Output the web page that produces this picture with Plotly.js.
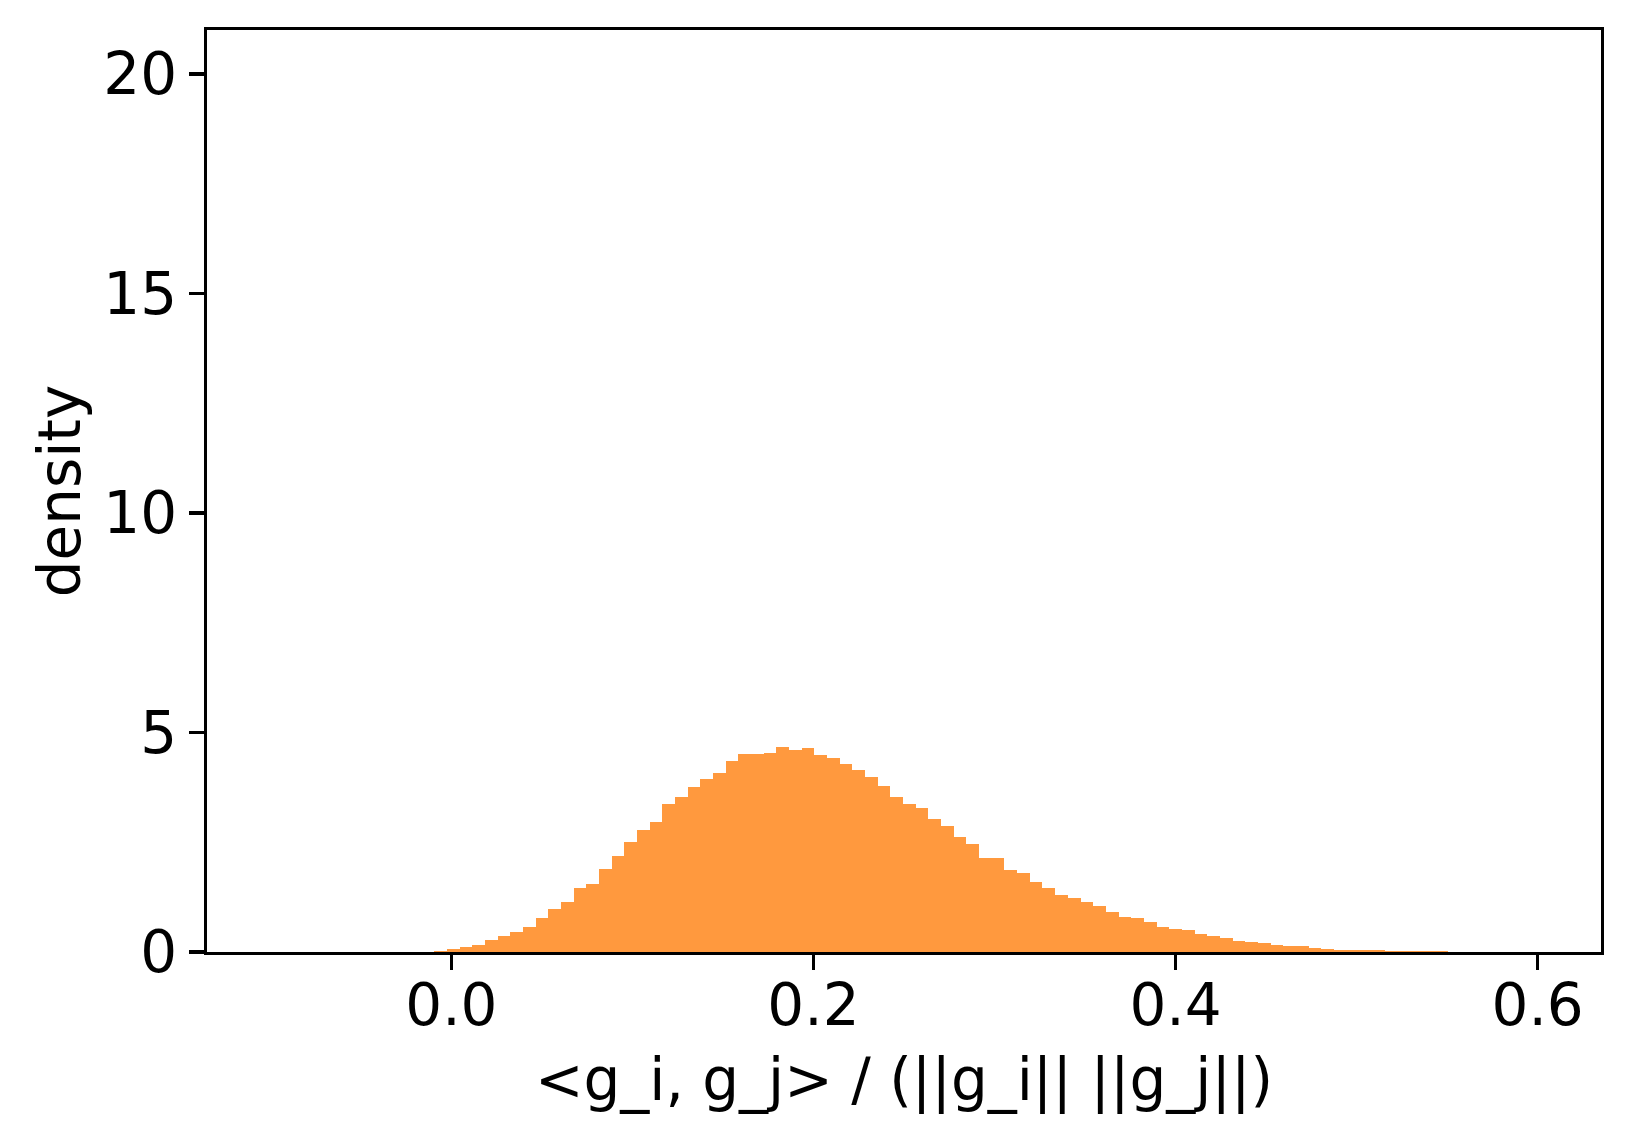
<!DOCTYPE html>
<html>
<head>
<meta charset="utf-8">
<script src="https://cdn.plot.ly/plotly-3.0.1.min.js"></script>
<style>
  html, body { margin: 0; padding: 0; background: #fff; }
  #chart { width: 1632px; height: 1145px; }
</style>
</head>
<body>
<div id="chart"></div>
<script>
// Histograma de similitud coseno (densidad), 80 bins
const binStart = -0.0095;
const binWidth = 0.0070;
const densityValues = [
  0.015, 0.06, 0.105, 0.15, 0.27, 0.36, 0.45, 0.58, 0.77, 0.97,
  1.15, 1.45, 1.56, 1.90, 2.18, 2.50, 2.79, 2.95, 3.38, 3.52,
  3.75, 3.93, 4.07, 4.34, 4.51, 4.51, 4.54, 4.68, 4.61, 4.64,
  4.48, 4.41, 4.29, 4.14, 3.98, 3.77, 3.54, 3.38, 3.29, 3.04,
  2.86, 2.61, 2.45, 2.13, 2.15, 1.86, 1.79, 1.59, 1.45, 1.29,
  1.24, 1.15, 1.04, 0.90, 0.79, 0.77, 0.68, 0.58, 0.52, 0.49,
  0.40, 0.36, 0.31, 0.26, 0.235, 0.21, 0.167, 0.144, 0.144, 0.099,
  0.076, 0.053, 0.053, 0.053, 0.053, 0.03, 0.03, 0.03, 0.03, 0.03
];
const xTicks = [0.0, 0.2, 0.4, 0.6];
const yTicks = [0, 5, 10, 15, 20];

// centros de cada bin
const binCenters = densityValues.map((v, i) => binStart + binWidth * (i + 0.5));

const font = 'DejaVu Sans, sans-serif';

const data = [
  {
    type: 'bar',
    x: binCenters,
    y: densityValues,
    width: binWidth,
    marker: {
      color: 'rgb(255,153,62)',
      line: { width: 0 }
    },
    hoverinfo: 'x+y'
  }
];

const layout = {
  width: 1632,
  height: 1145,
  paper_bgcolor: '#fff',
  plot_bgcolor: '#fff',
  showlegend: false,
  bargap: 0,
  font: { family: font, size: 58, color: '#000' },
  margin: { l: 207, r: 31, t: 30, b: 193 },
  xaxis: {
    range: [-0.135, 0.635],
    tickvals: xTicks,
    tickformat: '.1f',
    ticks: 'outside',
    ticklen: 15,
    tickwidth: 3.3,
    tickcolor: '#000',
    ticklabelstandoff: -15,
    showline: true,
    linewidth: 3.3,
    linecolor: '#000',
    mirror: true,
    showgrid: false,
    zeroline: false,
    tickfont: { family: font, size: 58 },
    title: {
      text: '&lt;g_i, g_j&gt; / (||g_i|| ||g_j||)',
      font: { family: font, size: 58 },
      standoff: 22
    }
  },
  yaxis: {
    range: [0, 21],
    tickvals: yTicks,
    ticks: 'outside',
    ticklen: 15,
    tickwidth: 3.3,
    tickcolor: '#000',
    showline: true,
    linewidth: 3.3,
    linecolor: '#000',
    mirror: true,
    showgrid: false,
    zeroline: false,
    tickfont: { family: font, size: 58 },
    title: {
      text: 'density',
      font: { family: font, size: 58 },
      standoff: 5
    }
  }
};

Plotly.newPlot('chart', data, layout, { displayModeBar: false, staticPlot: true });
</script>
</body>
</html>
